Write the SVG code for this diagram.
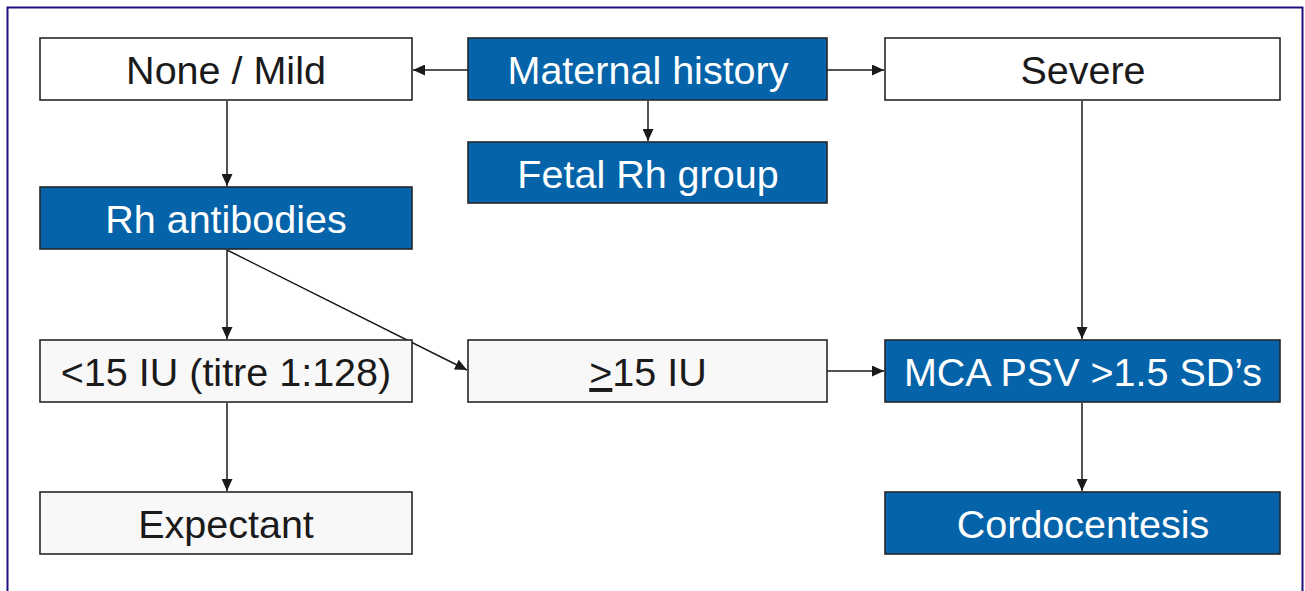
<svg xmlns="http://www.w3.org/2000/svg" width="1305" height="591" viewBox="0 0 1305 591">
<style>
.w{fill:#f8f8f8;stroke:#262626;stroke-width:1.6}
.b{fill:#0563a9;stroke:#262626;stroke-width:1.6}
text{font-family:"Liberation Sans",Arial,sans-serif;font-size:39.5px;text-anchor:middle}
.tw{fill:#1a1a1a}
.tb{fill:#ffffff}
.c{stroke:#1a1a1a;stroke-width:1.5;fill:none;marker-end:url(#a)}
</style>
<defs>
<marker id="a" markerWidth="13" markerHeight="11" refX="12" refY="5.5" orient="auto" markerUnits="userSpaceOnUse">
<path d="M0,0 L12,5.5 L0,11 Z" fill="#1a1a1a"/>
</marker>
</defs>
<rect x="0" y="0" width="1305" height="591" fill="#ffffff"/>
<rect x="7.5" y="7.5" width="1295" height="600" fill="none" stroke="#1c1080" stroke-width="2"/>
<g id="connectors">
<line class="c" x1="468" y1="70" x2="413" y2="70"/>
<line class="c" x1="827" y1="70" x2="884" y2="70"/>
<line class="c" x1="648" y1="101" x2="648" y2="141"/>
<line class="c" x1="227" y1="101" x2="227" y2="186"/>
<line class="c" x1="1082" y1="101" x2="1082" y2="339"/>
<line class="c" x1="227" y1="250" x2="227" y2="339"/>
<line class="c" x1="227" y1="250" x2="467" y2="370"/>
<line class="c" x1="827" y1="371" x2="884" y2="371"/>
<line class="c" x1="227" y1="403" x2="227" y2="491"/>
<line class="c" x1="1082" y1="403" x2="1082" y2="491"/>
</g>
<g id="none-mild"><rect class="w" x="40" y="38" width="372" height="62" style="fill:#ffffff"/><text class="tw" x="226" y="84">None / Mild</text></g>
<g id="maternal-history"><rect class="b" x="468" y="38" width="359" height="62"/><text class="tb" x="648" y="84">Maternal history</text></g>
<g id="severe"><rect class="w" x="885" y="38" width="395" height="62" style="fill:#ffffff"/><text class="tw" x="1083" y="84">Severe</text></g>
<g id="fetal-rh"><rect class="b" x="468" y="142" width="359" height="61"/><text class="tb" x="648" y="188">Fetal Rh group</text></g>
<g id="rh-antibodies"><rect class="b" x="40" y="187" width="372" height="62"/><text class="tb" x="226" y="233">Rh antibodies</text></g>
<g id="lt15"><rect class="w" x="40" y="340" width="372" height="62"/><text class="tw" x="226" y="386">&lt;15 IU (titre 1:128)</text></g>
<g id="ge15"><rect class="w" x="468" y="340" width="359" height="62"/><text class="tw" x="648" y="386"><tspan text-decoration="underline">&gt;</tspan>15 IU</text></g>
<g id="mca"><rect class="b" x="885" y="340" width="395" height="62"/><text class="tb" x="1083" y="386">MCA PSV &gt;1.5 SD’s</text></g>
<g id="expectant"><rect class="w" x="40" y="492" width="372" height="62"/><text class="tw" x="226" y="538">Expectant</text></g>
<g id="cordocentesis"><rect class="b" x="885" y="492" width="395" height="62"/><text class="tb" x="1083" y="538">Cordocentesis</text></g>
</svg>
